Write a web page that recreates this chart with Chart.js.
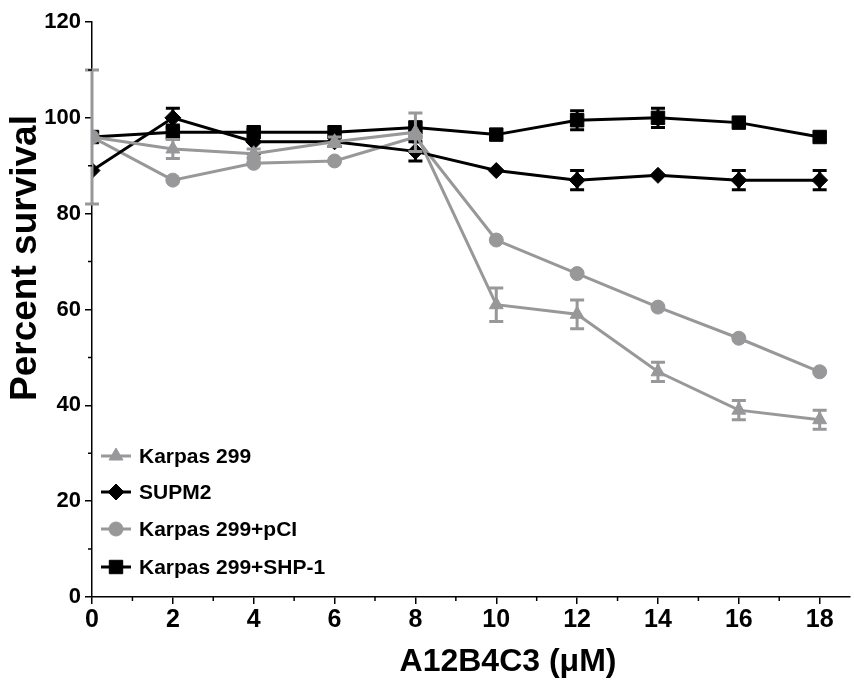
<!DOCTYPE html>
<html>
<head>
<meta charset="utf-8">
<script src="https://cdn.jsdelivr.net/npm/chart.js@4.4.0/dist/chart.umd.min.js"></script>
<style>
  html, body { margin: 0; padding: 0; background: #fff; }
</style>
</head>
<body>
<canvas id="survivalChart" width="854" height="686"></canvas>
<script>
// doses (µM) and percent survival
const doses = [0, 2, 4, 6, 8, 10, 12, 14, 16, 18];
const xTicks = [0, 2, 4, 6, 8, 10, 12, 14, 16, 18];
const yTicks = [0, 20, 40, 60, 80, 100, 120];

const karpas299 = [96, 93.5, 92.5, 95, 97, 61, 59, 47, 39, 37];
const karpas299Err = [14, 2, 1, 1, 4, 3.5, 3, 2, 2, 2];
const supm2 = [89, 100, 95, 95, 93, 89, 87, 88, 87, 87];
const supm2Err = [0, 2, 2.5, 1, 2, 0, 2, 0, 2, 2];
const karpasPci = [96, 87, 90.5, 91, 96, 74.5, 67.5, 60.5, 54, 47];
const karpasPciErr = [0, 0, 0, 0, 0, 0, 0, 0, 0, 0];
const karpasShp1 = [96, 97, 97, 97, 98, 96.5, 99.5, 100, 99, 96];
const karpasShp1Err = [0, 1.5, 0, 0, 0, 0, 2, 2, 0, 0];

const GRAY = "#98989a";
const BLACK = "#000000";

function makeSeries(label, values, errors, color, style, radius) {
    return {
        label: label,
        data: doses.map((d, i) => ({ x: d, y: values[i] })),
        errors: errors,
        borderColor: color,
        backgroundColor: color,
        borderWidth: 3,
        pointStyle: style,
        pointRadius: radius,
        pointHoverRadius: radius,
        pointBorderWidth: 1,
        tension: 0,
    };
}

// error bars, drawn right after each dataset so layering follows the lines
const errorBars = {
    id: "errorBars",
    afterDatasetDraw(chart, args) {
        const ds = chart.data.datasets[args.index];
        if (!ds.errors) return;
        const { ctx, scales: { x, y } } = chart;
        ctx.save();
        ctx.strokeStyle = ds.borderColor;
        ctx.lineWidth = 3;
        ds.data.forEach((p, i) => {
            const e = ds.errors[i];
            if (!e) return;
            const px = x.getPixelForValue(p.x);
            const top = y.getPixelForValue(p.y + e);
            const bot = y.getPixelForValue(p.y - e);
            ctx.beginPath();
            ctx.moveTo(px, top);
            ctx.lineTo(px, bot);
            ctx.moveTo(px - 7, top);
            ctx.lineTo(px + 7, top);
            ctx.moveTo(px - 7, bot);
            ctx.lineTo(px + 7, bot);
            ctx.stroke();
        });
        ctx.restore();
    },
};

// minor ticks, axis titles and the in-plot legend
const extras = {
    id: "extras",
    afterDraw(chart) {
        const { ctx, scales: { x, y }, chartArea } = chart;
        ctx.save();
        ctx.strokeStyle = BLACK;
        ctx.lineWidth = 1.5;
        ctx.beginPath();
        for (let v = 1; v < 19; v += 2) {
            const px = x.getPixelForValue(v);
            ctx.moveTo(px, chartArea.bottom);
            ctx.lineTo(px, chartArea.bottom + 4);
        }
        for (let v = 10; v < 120; v += 20) {
            const py = y.getPixelForValue(v);
            ctx.moveTo(chartArea.left, py);
            ctx.lineTo(chartArea.left - 4, py);
        }
        ctx.stroke();

        ctx.fillStyle = BLACK;
        ctx.textAlign = "center";
        ctx.textBaseline = "middle";

        // y axis title
        ctx.save();
        ctx.translate(26, 258);
        ctx.rotate(-Math.PI / 2);
        ctx.font = "bold 37px 'Liberation Sans', Arial, sans-serif";
        ctx.fillText("Percent survival", 0, 0);
        ctx.restore();

        // x axis title
        ctx.font = "bold 32px 'Liberation Sans', Arial, sans-serif";
        ctx.fillText("A12B4C3 (μM)", 508, 662);

        // legend
        const rowY = [456, 492, 529, 567];
        chart.data.datasets.forEach((ds, i) => {
            const yy = rowY[i];
            ctx.strokeStyle = ds.borderColor;
            ctx.lineWidth = 3;
            ctx.beginPath();
            ctx.moveTo(101, yy);
            ctx.lineTo(131, yy);
            ctx.stroke();
            ctx.fillStyle = ds.backgroundColor;
            ctx.lineWidth = 1;
            Chart.helpers.drawPoint(ctx, {
                pointStyle: ds.pointStyle,
                radius: ds.pointRadius,
                borderWidth: 1,
                rotation: 0,
            }, 116, yy);
            ctx.fillStyle = BLACK;
            ctx.font = "bold 21px 'Liberation Sans', Arial, sans-serif";
            ctx.textAlign = "left";
            ctx.fillText(ds.label, 139, yy + 1);
        });
        ctx.restore();
    },
};

const ctx = document.getElementById("survivalChart").getContext("2d");

new Chart(ctx, {
    type: "line",
    data: {
        datasets: [
            makeSeries("Karpas 299", karpas299, karpas299Err, GRAY, "triangle", 8),
            makeSeries("SUPM2", supm2, supm2Err, BLACK, "rectRot", 8),
            makeSeries("Karpas 299+pCI", karpasPci, karpasPciErr, GRAY, "circle", 7),
            makeSeries("Karpas 299+SHP-1", karpasShp1, karpasShp1Err, BLACK, "rect", 9.5),
        ],
    },
    options: {
        responsive: false,
        animation: false,
        layout: { autoPadding: false, padding: { top: 22, right: 4, left: 0, bottom: 0 } },
        plugins: {
            legend: { display: false },
            tooltip: { enabled: false },
        },
        scales: {
            x: {
                type: "linear",
                min: 0,
                max: 18.75,
                afterBuildTicks: (scale) => { scale.ticks = xTicks.map(v => ({ value: v })); },
                afterFit: (scale) => {
                    scale.height = 89;
                    scale.paddingLeft = 0;
                    scale.paddingRight = 0;
                },
                border: { color: BLACK, width: 1.5 },
                grid: { drawOnChartArea: false, color: BLACK, tickLength: 7, lineWidth: 1.5 },
                ticks: {
                    color: BLACK,
                    padding: 1,
                    maxRotation: 0,
                    font: { family: "'Liberation Sans Narrow', 'Liberation Sans', Arial, sans-serif", size: 25, weight: "bold" },
                },
            },
            y: {
                min: 0,
                max: 120,
                afterBuildTicks: (scale) => { scale.ticks = yTicks.map(v => ({ value: v })); },
                afterFit: (scale) => { scale.width = 92; },
                border: { color: BLACK, width: 1.5 },
                grid: { drawOnChartArea: false, color: BLACK, tickLength: 7, lineWidth: 1.5 },
                ticks: {
                    color: BLACK,
                    padding: 4,
                    font: { family: "'Liberation Sans', Arial, sans-serif", size: 22, weight: "bold" },
                },
            },
        },
    },
    plugins: [errorBars, extras],
});
</script>
</body>
</html>
